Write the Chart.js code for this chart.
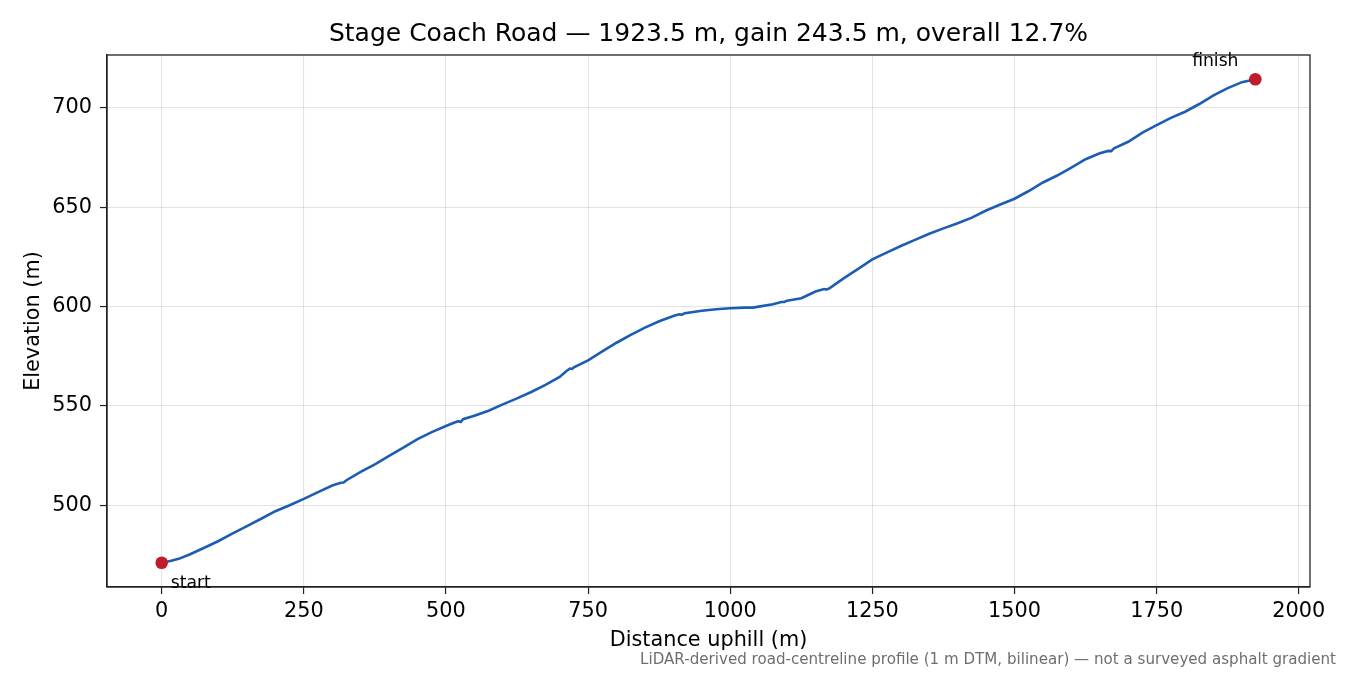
<!DOCTYPE html>
<html>
<head>
<meta charset="utf-8">
<script src="https://cdn.jsdelivr.net/npm/chart.js@4.4.1/dist/chart.umd.min.js"></script>
<style>
  html, body { margin: 0; padding: 0; background: #ffffff; }
  #wrap { width: 1350px; height: 675px; }
</style>
</head>
<body>
<div id="wrap"><canvas id="c" width="1350" height="675"></canvas></div>
<script>
// ---- data ----
const distances = [0, 15, 30, 50, 75, 100, 125, 150, 175, 200, 225, 250, 275, 300, 315, 320, 325, 350, 375, 400,
  425, 450, 475, 500, 515, 522, 526, 530, 550, 575, 600, 625, 650, 675, 700, 712, 718, 722, 725, 750,
  775, 800, 825, 850, 875, 900, 910, 915, 920, 950, 975, 1000, 1025, 1040, 1050, 1075, 1090, 1095, 1100, 1125,
  1150, 1165, 1170, 1175, 1200, 1225, 1250, 1275, 1300, 1325, 1350, 1375, 1400, 1425, 1450, 1475, 1500, 1525, 1550, 1575,
  1600, 1625, 1650, 1665, 1670, 1675, 1700, 1725, 1750, 1775, 1800, 1825, 1850, 1875, 1900, 1923.5];
const elevations = [471.0, 471.9, 473.0, 475.3, 478.6, 482.0, 485.8, 489.5, 493.2, 497.0, 500.0, 503.2, 506.6, 509.9, 511.3, 511.4, 512.6, 516.8, 520.6, 524.8,
  529.0, 533.3, 536.8, 539.9, 541.6, 542.3, 541.9, 543.3, 545.0, 547.6, 550.8, 553.8, 557.0, 560.6, 564.6, 567.6, 568.8, 568.6, 569.4, 572.9,
  577.5, 581.8, 585.8, 589.4, 592.6, 595.3, 596.1, 595.9, 596.7, 597.9, 598.7, 599.2, 599.5, 599.5, 600.0, 601.2, 602.3, 602.3, 603.0, 604.2,
  607.6, 608.8, 608.6, 609.3, 614.3, 619.0, 623.8, 627.2, 630.5, 633.6, 636.7, 639.4, 642.0, 644.8, 648.4, 651.4, 654.3, 658.2, 662.5, 666.0,
  670.0, 674.2, 677.2, 678.4, 678.3, 679.7, 683.0, 687.6, 691.4, 695.0, 698.1, 702.0, 706.3, 710.0, 713.0, 714.5];
const xTicks = [0, 250, 500, 750, 1000, 1250, 1500, 1750, 2000];
const yTicks = [500, 550, 600, 650, 700];
const endpointLabels = ['start', 'finish'];
const titleText = 'Stage Coach Road \u2014 1923.5 m, gain 243.5 m, overall 12.7%';
const xTitle = 'Distance uphill (m)';
const yTitle = 'Elevation (m)';
const footnote = 'LiDAR-derived road-centreline profile (1 m DTM, bilinear) \u2014 not a surveyed asphalt gradient';

const FONT = '"DejaVu Sans", "Liberation Sans", sans-serif';
const lineData = distances.map((d, i) => ({ x: d, y: elevations[i] }));
const last = distances.length - 1;
const endData = [{ x: distances[0], y: elevations[0] }, { x: distances[last], y: elevations[last] }];

const xSpan = distances[last] - distances[0];
const ySpan = Math.max(...elevations) - Math.min(...elevations);
const xMin = distances[0] - 0.05 * xSpan, xMax = distances[last] + 0.05 * xSpan;
const yMin = Math.min(...elevations) - 0.05 * ySpan, yMax = Math.max(...elevations) + 0.05 * ySpan;

const decor = {
  id: 'decor',
  afterDraw(chart) {
    const ctx = chart.ctx, a = chart.chartArea;
    const xs = chart.scales.x, ys = chart.scales.y;
    ctx.save();
    // frame
    ctx.strokeStyle = '#222';
    ctx.lineWidth = 1.3;
    ctx.strokeRect(a.left, a.top, a.right - a.left, a.bottom - a.top);
    // title
    ctx.fillStyle = '#000';
    ctx.textAlign = 'center';
    ctx.textBaseline = 'middle';
    ctx.font = '25px ' + FONT;
    ctx.fillText(titleText, (a.left + a.right) / 2, 34);
    // axis titles
    ctx.font = '20.8px ' + FONT;
    ctx.fillText(xTitle, (a.left + a.right) / 2, 641);
    ctx.save();
    ctx.translate(34, (a.top + a.bottom) / 2);
    ctx.rotate(-Math.PI / 2);
    ctx.fillText(yTitle, 0, 0);
    ctx.restore();
    // annotations
    ctx.font = '17.2px ' + FONT;
    ctx.textBaseline = 'alphabetic';
    ctx.textAlign = 'left';
    ctx.fillText(endpointLabels[0], xs.getPixelForValue(endData[0].x) + 9, ys.getPixelForValue(endData[0].y) + 25);
    ctx.textAlign = 'center';
    ctx.fillText(endpointLabels[1], xs.getPixelForValue(endData[1].x) - 40, ys.getPixelForValue(endData[1].y) - 13);
    // footnote
    ctx.font = '15.1px ' + FONT;
    ctx.fillStyle = '#6e6e6e';
    ctx.textAlign = 'right';
    ctx.textBaseline = 'middle';
    ctx.fillText(footnote, 1336, 660);
    ctx.restore();
  }
};

new Chart(document.getElementById('c'), {
  type: 'scatter',
  data: {
    datasets: [
      {
        data: endData,
        showLine: false,
        pointRadius: 6.3,
        pointHoverRadius: 6.3,
        pointBackgroundColor: '#c01b2c',
        pointBorderColor: '#c01b2c',
        pointBorderWidth: 0,
        order: 0
      },
      {
        data: lineData,
        showLine: true,
        borderColor: '#1c5db3',
        borderWidth: 2.6,
        pointRadius: 0,
        tension: 0,
        fill: false,
        order: 1
      }
    ]
  },
  options: {
    responsive: false,
    animation: false,
    devicePixelRatio: 1,
    layout: { padding: { left: 0, right: 40, top: 55, bottom: 0 } },
    plugins: { legend: { display: false }, title: { display: false }, tooltip: { enabled: false } },
    scales: {
      x: {
        type: 'linear',
        min: xMin, max: xMax,
        afterBuildTicks(s) { s.ticks = xTicks.map(v => ({ value: v })); },
        afterFit(s) { s.height = 88; },
        grid: { color: 'rgba(0,0,0,0.11)', lineWidth: 1.1, drawTicks: true, tickLength: 7, tickColor: '#222', tickWidth: 1.2 },
        border: { display: true, color: '#222', width: 1.3 },
        ticks: { color: '#000', font: { family: FONT, size: 20.8 }, padding: 5, maxRotation: 0, autoSkip: false,
                 callback: v => String(v) }
      },
      y: {
        type: 'linear',
        min: yMin, max: yMax,
        afterBuildTicks(s) { s.ticks = yTicks.map(v => ({ value: v })); },
        afterFit(s) { s.width = 107; },
        grid: { color: 'rgba(0,0,0,0.11)', lineWidth: 1.1, drawTicks: true, tickLength: 7, tickColor: '#222', tickWidth: 1.2 },
        border: { display: true, color: '#222', width: 1.3 },
        ticks: { color: '#000', font: { family: FONT, size: 20.8 }, padding: 8, autoSkip: false,
                 callback: v => String(v) }
      }
    }
  },
  plugins: [decor]
});
</script>
</body>
</html>
